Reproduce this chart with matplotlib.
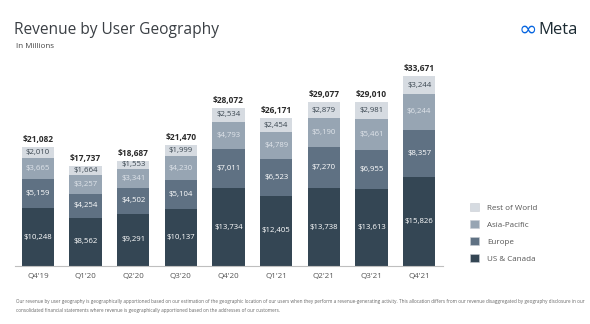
import numpy as np
import matplotlib
matplotlib.use("Agg")
import matplotlib.pyplot as plt
from matplotlib.patches import Patch

plt.rcParams['font.family'] = ['Open Sans', 'DejaVu Sans']

quarters = ["Q4'19", "Q1'20", "Q2'20", "Q3'20", "Q4'20", "Q1'21", "Q2'21", "Q3'21", "Q4'21"]
us_canada = [10248, 8562, 9291, 10137, 13734, 12405, 13738, 13613, 15826]
europe = [5159, 4254, 4502, 5104, 7011, 6523, 7270, 6955, 8357]
asia_pacific = [3665, 3257, 3341, 4230, 4793, 4789, 5190, 5461, 6244]
rest_of_world = [2010, 1664, 1553, 1999, 2534, 2454, 2879, 2981, 3244]
totals = [21082, 17737, 18687, 21470, 28072, 26171, 29077, 29010, 33671]

series = [
    ("US & Canada", us_canada, "#344654", "white"),
    ("Europe", europe, "#5f7183", "white"),
    ("Asia-Pacific", asia_pacific, "#97a5b3", "#dfe4ea"),
    ("Rest of World", rest_of_world, "#d6dbe1", "#3a4650"),
]

W, H = 590, 324
fig = plt.figure(figsize=(W / 100, H / 100), dpi=100)

# axes placed in pixel coords
ax = fig.add_axes([15 / W, 1 - 266 / H, (443 - 15) / W, (266 - 60) / H])
x = np.arange(len(quarters))
bottom = np.zeros(len(quarters))
for name, vals, color, tcolor in series:
    vals = np.array(vals)
    ax.bar(x, vals, 0.68, bottom=bottom, color=color, label=name)
    for xi, b, v in zip(x, bottom, vals):
        ax.text(xi, b + v / 2, f"${v:,}", ha="center", va="center",
                fontsize=5.6, color=tcolor)
    bottom += vals

for xi, t in zip(x, totals):
    ax.text(xi, t + 500, f"${t:,}", ha="center", va="bottom",
            fontsize=6, fontweight="bold", color="#2b2b2b")

ax.set_xlim(-0.48, 8.5)
ax.set_ylim(0, 36500)
ax.set_xticks(x)
ax.set_xticklabels(quarters, fontsize=5.8, color="#555555")
ax.tick_params(axis="x", length=0, pad=5)
ax.set_yticks([])
for s in ["top", "right", "left"]:
    ax.spines[s].set_visible(False)
ax.spines["bottom"].set_color("#bfbfbf")
ax.spines["bottom"].set_linewidth(0.8)

handles = [Patch(facecolor=c, edgecolor="#c8cdd3", linewidth=0.4, label=n)
           for n, _, c, _ in reversed(series)]
fig.legend(handles=handles, loc="upper left", bbox_to_anchor=(463 / W, 1 - 196 / H),
           frameon=False, fontsize=5.8, handlelength=1.1, handleheight=1.1,
           labelspacing=1.05, handletextpad=1.0, labelcolor="#555555")

fig.text(14 / W, 1 - 30 / H, "Revenue by User Geography", fontsize=11.2,
         color="#3a3f44", va="center")
fig.text(16 / W, 1 - 46 / H, "In Millions", fontsize=5.8, color="#444444", va="center")

# Meta logo
fig.text(537 / W, 1 - 30 / H, "∞", fontsize=16, color="#0866e0", va="center",
         ha="right", family="DejaVu Sans")
fig.text(538 / W, 1 - 30 / H, "Meta", fontsize=12, color="#1c2b33", va="center")

note = ("Our revenue by user geography is geographically apportioned based on our estimation of the geographic location of our users "
        "when they perform a revenue-generating activity. This allocation differs from our revenue disaggregated by geography disclosure in our\n"
        "consolidated financial statements where revenue is geographically apportioned based on the addresses of our customers.")
fig.text(16 / W, 1 - 306 / H, note, fontsize=3.3, color="#666666", va="center",
         linespacing=1.8)

fig.savefig("out.png", dpi=100, facecolor="white")
